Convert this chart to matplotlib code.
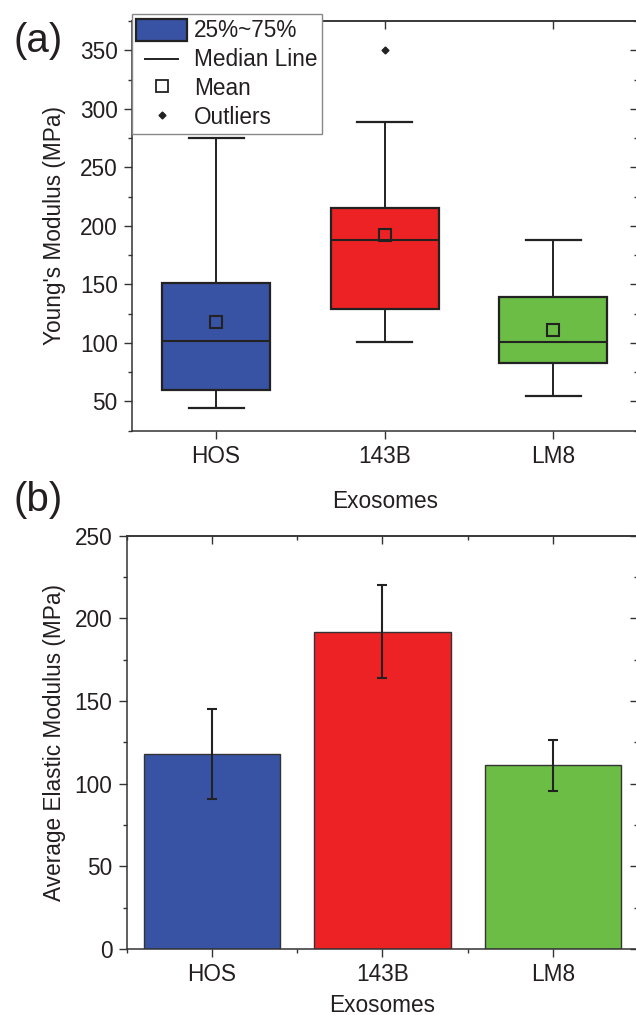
import matplotlib
matplotlib.use("Agg")
import matplotlib.pyplot as plt
from matplotlib.patches import Patch
from matplotlib.lines import Line2D
from matplotlib.legend_handler import HandlerLine2D
from matplotlib.ticker import MultipleLocator, FixedLocator, NullFormatter

# ---------------- data ----------------
categories = ["HOS", "143B", "LM8"]
colors = ["#3953A4", "#ED2224", "#6BBD45"]

# panel (a) box statistics (MPa)
whisker_low = [44, 101, 55]
q1 = [59.5, 129, 82.5]
median = [101.5, 188, 100.5]
q3 = [151.5, 215.5, 139.5]
whisker_high = [275, 289, 188]
means = [117.7, 192, 111]
outliers = [[], [350], []]

# panel (b) bar values (MPa)
avg_modulus = [118, 192, 111]
avg_err = [27, 28, 15.2]

TXT = "#231F20"
EDGE = "#222222"
plt.rcParams.update({
    "font.family": ["Liberation Sans", "DejaVu Sans"],
    "font.size": 16.3,
    "text.color": TXT,
    "axes.labelcolor": TXT,
    "xtick.color": "#333333",
    "ytick.color": "#333333",
    "xtick.labelcolor": TXT,
    "ytick.labelcolor": TXT,
    "axes.edgecolor": "#333333",
    "axes.linewidth": 1.1,
})

W, H = 636, 1015
fig = plt.figure(figsize=(W / 100, H / 100), dpi=100)

def frac_axes(left_px, top_px, right_px, bottom_px):
    return fig.add_axes([left_px / W, 1 - bottom_px / H,
                         (right_px - left_px) / W, (bottom_px - top_px) / H])

def style_ticks(ax, xminor):
    ax.tick_params(axis="both", which="major", direction="out", length=5.5,
                   width=1.0, pad=4.5)
    ax.tick_params(axis="both", which="minor", direction="out", length=3,
                   width=1.0)
    secy = ax.secondary_yaxis("right")
    secy.yaxis.set_major_locator(MultipleLocator(50))
    secy.yaxis.set_minor_locator(MultipleLocator(25))
    secy.tick_params(which="major", direction="in", length=5.5, width=1.0,
                     labelright=False)
    secy.tick_params(which="minor", direction="in", length=3, width=1.0)
    secx = ax.secondary_xaxis("top")
    secx.xaxis.set_major_locator(FixedLocator([1, 2, 3]))
    if xminor:
        secx.xaxis.set_minor_locator(FixedLocator([0.5, 1.5, 2.5, 3.5]))
    else:
        secx.xaxis.set_minor_locator(FixedLocator([]))
    secx.tick_params(which="major", direction="in", length=5.5, width=1.0,
                     labeltop=False)
    secx.tick_params(which="minor", direction="in", length=3, width=1.0)
    secx.xaxis.set_major_formatter(NullFormatter())

# ---------------- panel (a) ----------------
axa = frac_axes(131.7, 21, 637.6, 430.7)
positions = [1, 2, 3]
stats = []
for i, name in enumerate(categories):
    stats.append(dict(label=name, whislo=whisker_low[i], q1=q1[i],
                      med=median[i], q3=q3[i], whishi=whisker_high[i],
                      mean=means[i], fliers=outliers[i]))
bp = axa.bxp(stats, positions=positions, widths=0.642, capwidths=0.326,
             patch_artist=True, showmeans=True,
             boxprops=dict(edgecolor=EDGE, linewidth=1.6),
             medianprops=dict(color=EDGE, linewidth=1.5),
             whiskerprops=dict(color=EDGE, linewidth=1.4),
             capprops=dict(color=EDGE, linewidth=1.6),
             meanprops=dict(marker="s", markerfacecolor="none",
                            markeredgecolor=EDGE, markeredgewidth=1.5,
                            markersize=8.5),
             flierprops=dict(marker="D", markerfacecolor=EDGE,
                             markeredgecolor=EDGE, markersize=3.5))
for patch, c in zip(bp["boxes"], colors):
    patch.set_facecolor(c)
axa.set_xlim(0.5, 3.5)
axa.set_ylim(25, 375)
axa.yaxis.set_major_locator(MultipleLocator(50))
axa.yaxis.set_minor_locator(MultipleLocator(25))
axa.set_xticks(positions)
axa.set_xticklabels(categories)
axa.xaxis.set_minor_locator(FixedLocator([]))
style_ticks(axa, xminor=False)
axa.set_ylabel("Young's Modulus (MPa)")
axa.yaxis.label.set_verticalalignment("center")
axa.yaxis.set_label_coords((54 - 131.7) / (637.6 - 131.7), 0.5)
axa.set_xlabel("Exosomes")
axa.xaxis.label.set_verticalalignment("center")
axa.xaxis.set_label_coords(0.5, -(502 - 430.7) / (430.7 - 21))

# legend for (a)
class ShortLine(HandlerLine2D):
    def create_artists(self, legend, orig_handle, xdescent, ydescent, width,
                       height, fontsize, trans):
        pad = width * 0.18
        y = height / 2 - ydescent
        ln = Line2D([-xdescent + pad, -xdescent + width - pad], [y, y],
                    color=orig_handle.get_color(),
                    linewidth=orig_handle.get_linewidth())
        ln.set_transform(trans)
        return [ln]

h_box = Patch(facecolor=colors[0], edgecolor=EDGE, linewidth=1.6)
h_med = Line2D([], [], color=EDGE, linewidth=1.4)
h_mean = Line2D([], [], linestyle="none", marker="s", markerfacecolor="none",
                markeredgecolor=EDGE, markeredgewidth=1.3, markersize=8)
h_out = Line2D([], [], linestyle="none", marker="D", markerfacecolor=EDGE,
               markeredgecolor=EDGE, markersize=3.5)
leg = fig.legend([h_box, h_med, h_mean, h_out],
                 ["25%~75%", "Median Line", "Mean", "Outliers"],
                 loc="upper left", bbox_to_anchor=(131.7 / W, 1 - 14 / H),
                 bbox_transform=fig.transFigure, borderaxespad=0,
                 borderpad=0.2, handlelength=2.25, handleheight=1.15,
                 handletextpad=0.3, labelspacing=0.22, fancybox=False,
                 framealpha=1, edgecolor="#888888", fontsize=16.3,
                 handler_map={h_med: ShortLine()})
leg.get_frame().set_linewidth(1.0)

fig.text(13 / W, 1 - 41 / H, "(a)", fontsize=29, ha="left", va="center")

# ---------------- panel (b) ----------------
axb = frac_axes(126.5, 535.7, 638.3, 949)
axb.bar(positions, avg_modulus, width=0.8, color=colors, edgecolor="#333333",
        linewidth=1.0, zorder=2)
axb.errorbar(positions, avg_modulus, yerr=avg_err, fmt="none", ecolor=EDGE,
             elinewidth=1.5, capsize=3.3, capthick=1.5, zorder=3)
axb.set_xlim(0.5, 3.5)
axb.set_ylim(0, 250)
axb.yaxis.set_major_locator(MultipleLocator(50))
axb.yaxis.set_minor_locator(MultipleLocator(25))
axb.set_xticks(positions)
axb.set_xticklabels(categories)
axb.xaxis.set_minor_locator(FixedLocator([0.5, 1.5, 2.5, 3.5]))
style_ticks(axb, xminor=True)
axb.set_ylabel("Average Elastic Modulus (MPa)")
axb.yaxis.label.set_verticalalignment("center")
axb.yaxis.set_label_coords((54 - 126.5) / (638.3 - 126.5), 0.5)
axb.set_xlabel("Exosomes")
axb.xaxis.label.set_verticalalignment("center")
axb.xaxis.set_label_coords(0.5, -(1005 - 949) / (949 - 535.7))

fig.text(13 / W, 1 - 500 / H, "(b)", fontsize=29, ha="left", va="center")

fig.savefig("out.png", dpi=100)
